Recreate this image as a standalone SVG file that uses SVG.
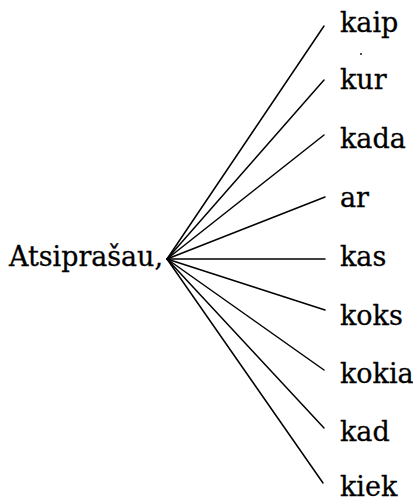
<svg xmlns="http://www.w3.org/2000/svg" width="413" height="501" viewBox="0 0 413 501">
<style>
.t{font-family:"DejaVu Serif","Liberation Serif",serif;font-size:27px;fill:#000;stroke:#000;stroke-width:0.3}
.c line{stroke:#000;stroke-width:1.5;stroke-linecap:round}
</style>
<rect width="413" height="501" fill="#fff"/>
<g class="c" id="connectors">
<line x1="167" y1="259" x2="324" y2="26"/>
<line x1="167" y1="259" x2="324" y2="80"/>
<line x1="167" y1="259" x2="324" y2="135"/>
<line x1="167" y1="259" x2="325" y2="197"/>
<line x1="167" y1="259" x2="325" y2="259"/>
<line x1="167" y1="259" x2="325" y2="310"/>
<line x1="167" y1="259" x2="324" y2="370"/>
<line x1="167" y1="259" x2="324" y2="428"/>
<line x1="167" y1="259" x2="323" y2="483"/>
</g>
<g id="root"><text class="t" x="9" y="266" textLength="154" lengthAdjust="spacingAndGlyphs">Atsiprašau,</text></g>
<g id="n-kaip"><text class="t" x="340" y="32">kaip</text></g>
<circle cx="361" cy="54" r="0.9" fill="#000"/>
<g id="n-kur"><text class="t" x="340" y="89">kur</text></g>
<g id="n-kada"><text class="t" x="340" y="148">kada</text></g>
<g id="n-ar"><text class="t" x="340" y="207">ar</text></g>
<g id="n-kas"><text class="t" x="340" y="266">kas</text></g>
<g id="n-koks"><text class="t" x="340" y="325">koks</text></g>
<g id="n-kokia"><text class="t" x="340" y="383">kokia</text></g>
<g id="n-kad"><text class="t" x="340" y="441">kad</text></g>
<g id="n-kiek"><text class="t" x="340" y="496">kiek</text></g>
</svg>
